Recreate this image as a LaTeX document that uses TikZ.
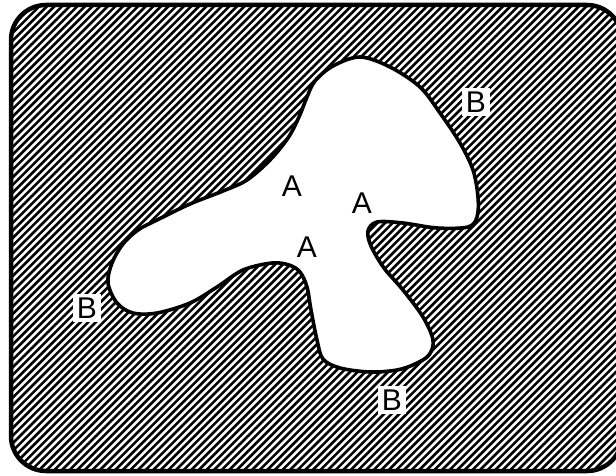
\documentclass[tikz,border=0pt]{standalone}
\usepackage{fontspec}
\setmainfont{Liberation Sans}
\tikzset{
  hatchline/.style={line width=2.6pt, black},
  blobline/.style={line width=3.6pt, black, fill=white, line join=round},
  frameline/.style={line width=4.5pt, black, rounded corners=35pt},
  lblA/.style={font=\fontsize{30}{30}\selectfont, inner sep=0pt},
  lblB/.style={font=\fontsize{30}{30}\selectfont, fill=white, inner sep=4pt}
}
\begin{document}
\begin{tikzpicture}[x=1pt,y=-1pt]
\useasboundingbox (0,0) rectangle (616,476);
\fill[white] (0,0) rectangle (616,476);
\begin{scope}
  \clip (0,0) rectangle (616,476);
  \clip[rounded corners=35pt] (11,5) rectangle (622,471);
  \foreach \i in {-480,-472.4,...,640} {
    \draw[hatchline] (\i,480) -- (\i+500,-20);
  }
\end{scope}
\filldraw[blobline] plot[smooth cycle, tension=0.55] coordinates {
  (360,57) (390,67) (420,87) (440,113) (460,143) (473,170) (478,197)
  (477,217) (468,227) (437,228) (403,223) (377,222) (368,231)
  (371,246) (384,268) (403,290) (423,317) (433,340) (429,355)
  (415,364) (397,370) (370,372) (340,368) (323,359) (317,340)
  (311,310) (307,287) (300,272) (289,265) (272,263) (243,270)
  (217,287) (190,303) (157,313) (133,313) (117,303) (108,283)
  (112,263) (123,244) (138,230) (157,220) (190,204) (223,191)
  (247,180) (270,160) (288,138) (299,117) (307,97) (315,81) (333,66)
};
\clip (0,0) rectangle (616,476);
\draw[frameline] (11,5) rectangle (622,471);
\node[lblA] (a1) at (292,186) {A};
\node[lblA] (a2) at (362,203) {A};
\node[lblA] (a3) at (307,247) {A};
\node[lblB] (b1) at (476,102) {B};
\node[lblB] (b2) at (87,308) {B};
\node[lblB] (b3) at (392,400) {B};
\end{tikzpicture}
\end{document}
